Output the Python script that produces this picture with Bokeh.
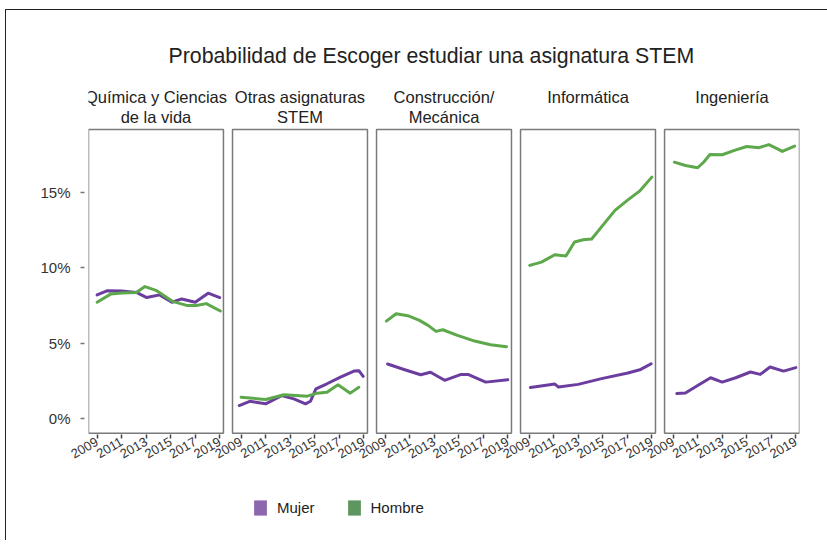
from bokeh.plotting import figure
from bokeh.models import (Range1d, FixedTicker, PrintfTickFormatter, Legend, LegendItem, Title)
from bokeh.layouts import column
from bokeh.core.properties import value
from bokeh.embed import file_html
from bokeh.resources import INLINE

# ---------------- data ----------------
TITLE = "Probabilidad de Escoger estudiar una asignatura STEM"
SUBJECTS = ["Química y Ciencias\nde la vida", "Otras asignaturas\nSTEM",
            "Construcción/\nMecánica", "Informática", "Ingeniería"]
SERIES = ["Mujer", "Hombre"]
X_TICKS = [2009, 2011, 2013, 2015, 2017, 2019]
Y_TICKS = [0, 5, 10, 15]

quimica_mujer_years = [2009, 2009.8, 2011, 2012.2, 2013.05, 2014.1, 2015.1, 2015.9, 2017.0, 2018.05, 2019]
quimica_mujer = [8.2, 8.47, 8.45, 8.36, 8.02, 8.2, 7.71, 7.93, 7.71, 8.31, 8.02]
quimica_hombre_years = [2009, 2010.1, 2011, 2012.2, 2012.9, 2013.8, 2015.2, 2016.3, 2017.1, 2017.9, 2019.05]
quimica_hombre = [7.71, 8.25, 8.33, 8.36, 8.75, 8.5, 7.75, 7.5, 7.5, 7.62, 7.13]

otras_mujer_years = [2008.85, 2009.7, 2011, 2012.3, 2013.3, 2014.25, 2014.65, 2015.1, 2016, 2017.1, 2018.2, 2018.6, 2018.95]
otras_mujer = [0.87, 1.15, 0.98, 1.53, 1.31, 0.98, 1.15, 1.98, 2.31, 2.75, 3.15, 3.18, 2.8]
otras_hombre_years = [2009, 2011, 2012.5, 2014.4, 2015.2, 2016, 2016.9, 2017.9, 2018.6]
otras_hombre = [1.42, 1.27, 1.58, 1.49, 1.69, 1.75, 2.24, 1.69, 2.08]

construccion_mujer_years = [2009.2, 2010.6, 2011.9, 2012.7, 2013.85, 2015.2, 2015.75, 2017.2, 2019]
construccion_mujer = [3.62, 3.24, 2.91, 3.07, 2.54, 2.93, 2.93, 2.42, 2.58]
construccion_hombre_years = [2009.1, 2009.9, 2010.85, 2011.8, 2012.5, 2013.15, 2013.7, 2014.9, 2016.3, 2017.6, 2018.9]
construccion_hombre = [6.46, 6.95, 6.82, 6.51, 6.18, 5.78, 5.89, 5.52, 5.14, 4.9, 4.77]

informatica_mujer_years = [2009.1, 2011.1, 2011.4, 2013, 2014.9, 2017.05, 2018.1, 2018.95]
informatica_mujer = [2.07, 2.29, 2.09, 2.27, 2.65, 3.02, 3.26, 3.64]
informatica_hombre_years = [2009.05, 2010.0, 2011.1, 2012.0, 2012.7, 2013.4, 2014.1, 2015.0, 2016.0, 2017.0, 2018.0, 2019.0]
informatica_hombre = [10.15, 10.37, 10.86, 10.77, 11.7, 11.85, 11.9, 12.8, 13.8, 14.46, 15.07, 16.0]

ingenieria_mujer_years = [2009.3, 2010.0, 2011.0, 2012.05, 2013, 2014.1, 2015.3, 2016.1, 2016.9, 2018, 2019]
ingenieria_mujer = [1.66, 1.7, 2.2, 2.71, 2.42, 2.71, 3.09, 2.93, 3.42, 3.15, 3.38]
ingenieria_hombre_years = [2009.1, 2010.0, 2011.0, 2011.5, 2012.0, 2013.0, 2014.0, 2015.0, 2016.0, 2016.8, 2017.3, 2017.9, 2018.9]
ingenieria_hombre = [16.99, 16.77, 16.62, 17.0, 17.5, 17.48, 17.77, 18.03, 17.95, 18.15, 17.95, 17.7, 18.05]

PANELS = [
    ((quimica_mujer_years, quimica_mujer), (quimica_hombre_years, quimica_hombre)),
    ((otras_mujer_years, otras_mujer), (otras_hombre_years, otras_hombre)),
    ((construccion_mujer_years, construccion_mujer), (construccion_hombre_years, construccion_hombre)),
    ((informatica_mujer_years, informatica_mujer), (informatica_hombre_years, informatica_hombre)),
    ((ingenieria_mujer_years, ingenieria_mujer), (ingenieria_hombre_years, ingenieria_hombre)),
]

# ---------------- styling / layout ----------------
LINE_COLORS = ["#6a3d9e", "#5da84b"]
SWATCH_COLORS = ["#8c67ad", "#5f9660"]
FONT = "Liberation Sans"
X0 = 2008.3          # year at the left edge of each panel
SPAN = 11.0          # panel width in years
STRIDE = 11.74       # panel-to-panel distance in years
Y_LO, Y_HI = -0.97, 19.16   # panel box extents (percent)
W = 821
NAN = float("nan")


def xpos(i, year):
    return i * STRIDE + (year - X0)


n = len(SUBJECTS)
p = figure(frame_width=711, frame_height=354,
           min_border_left=82, min_border_right=W - 82 - 711, min_border_top=70, min_border_bottom=40,
           x_range=Range1d(0, (n - 1) * STRIDE + SPAN), y_range=Range1d(-1.05, 22.4),
           output_backend="svg", toolbar_location=None)
p.outline_line_color = None
p.grid.visible = False
p.background_fill_color = "white"

p.title = Title(text=TITLE, align="left", offset=80, standoff=26, text_font=FONT,
                text_font_size="21.3px", text_font_style="normal", text_color="#222")

# panel boxes
p.quad(left=[xpos(i, X0) for i in range(n)], right=[xpos(i, X0 + SPAN) for i in range(n)],
       bottom=[Y_LO] * n, top=[Y_HI] * n, fill_color=None, line_color="#7a7a7a", line_width=1.5)

# series lines
for i, panel in enumerate(PANELS):
    for (yrs, vals), col in zip(panel, LINE_COLORS):
        p.line([xpos(i, y) for y in yrs], vals, line_color=col, line_width=3,
               line_join="round", line_cap="round")

# facet titles
l1x, l1t, l2x, l2t = [], [], [], []
for i, s in enumerate(SUBJECTS):
    parts = s.split("\n")
    l1x.append(xpos(i, X0 + SPAN / 2)); l1t.append(parts[0])
    if len(parts) > 1:
        l2x.append(xpos(i, X0 + SPAN / 2)); l2t.append(parts[1])
p.text(x=l1x, y=[21.28] * len(l1x), text=l1t, text_align="center", text_baseline="alphabetic",
       text_font=value(FONT), text_font_size="16.5px", text_color="#222")
p.text(x=l2x, y=[19.95] * len(l2x), text=l2t, text_align="center", text_baseline="alphabetic",
       text_font=value(FONT), text_font_size="16.5px", text_color="#222")

# x axis
xt = [round(xpos(i, y), 6) for i in range(n) for y in X_TICKS]
p.xaxis.ticker = FixedTicker(ticks=xt)
p.xaxis.major_label_overrides = {round(xpos(i, y), 6): str(y) for i in range(n) for y in X_TICKS}
p.xaxis.axis_line_color = None
p.xaxis.major_tick_in = 0
p.xaxis.major_tick_out = 4
p.xaxis.major_tick_line_color = "#444"
p.xaxis.major_tick_line_width = 1.5
p.xaxis.minor_tick_line_color = None
p.xaxis.major_label_orientation = 0.5236
p.xaxis.major_label_standoff = 2
p.xaxis.major_label_text_font = FONT
p.xaxis.major_label_text_font_size = "13px"
p.xaxis.major_label_text_color = "#333"

# y axis
p.yaxis.ticker = FixedTicker(ticks=Y_TICKS)
p.yaxis.formatter = PrintfTickFormatter(format="%d%%")
p.yaxis.axis_line_color = None
p.yaxis.major_tick_in = -4
p.yaxis.major_tick_out = 8
p.yaxis.major_tick_line_color = "#777"
p.yaxis.major_tick_line_width = 1.5
p.yaxis.minor_tick_line_color = None
p.yaxis.major_label_standoff = 10
p.yaxis.major_label_text_font = FONT
p.yaxis.major_label_text_font_size = "15px"
p.yaxis.major_label_text_color = "#333"

# legend strip
lg = figure(width=W, height=66, min_border=0, x_range=Range1d(0, 1), y_range=Range1d(0, 1),
            x_axis_location=None, y_axis_location=None,
            output_backend="svg", toolbar_location=None)
lg.outline_line_color = None
lg.grid.visible = False
items = []
for name, col in zip(SERIES, SWATCH_COLORS):
    r = lg.quad(left=[NAN], right=[NAN], top=[NAN], bottom=[NAN], fill_color=col, line_color=None)
    items.append(LegendItem(label=name, renderers=[r]))
legend = Legend(items=items, orientation="horizontal", location=(164, 23),
                glyph_width=16, glyph_height=19, label_standoff=9, spacing=31,
                padding=0, margin=0, border_line_color=None, background_fill_alpha=0,
                label_text_font=FONT, label_text_font_size="15px",
                label_text_color="#222")
lg.add_layout(legend, "center")

page = column(p, lg, spacing=0,
              styles={"margin-left": "5px", "margin-top": "9px",
                      "border-top": "1px solid #222", "border-left": "1px solid #222"})

open("out.html", "w").write(file_html(page, INLINE))
